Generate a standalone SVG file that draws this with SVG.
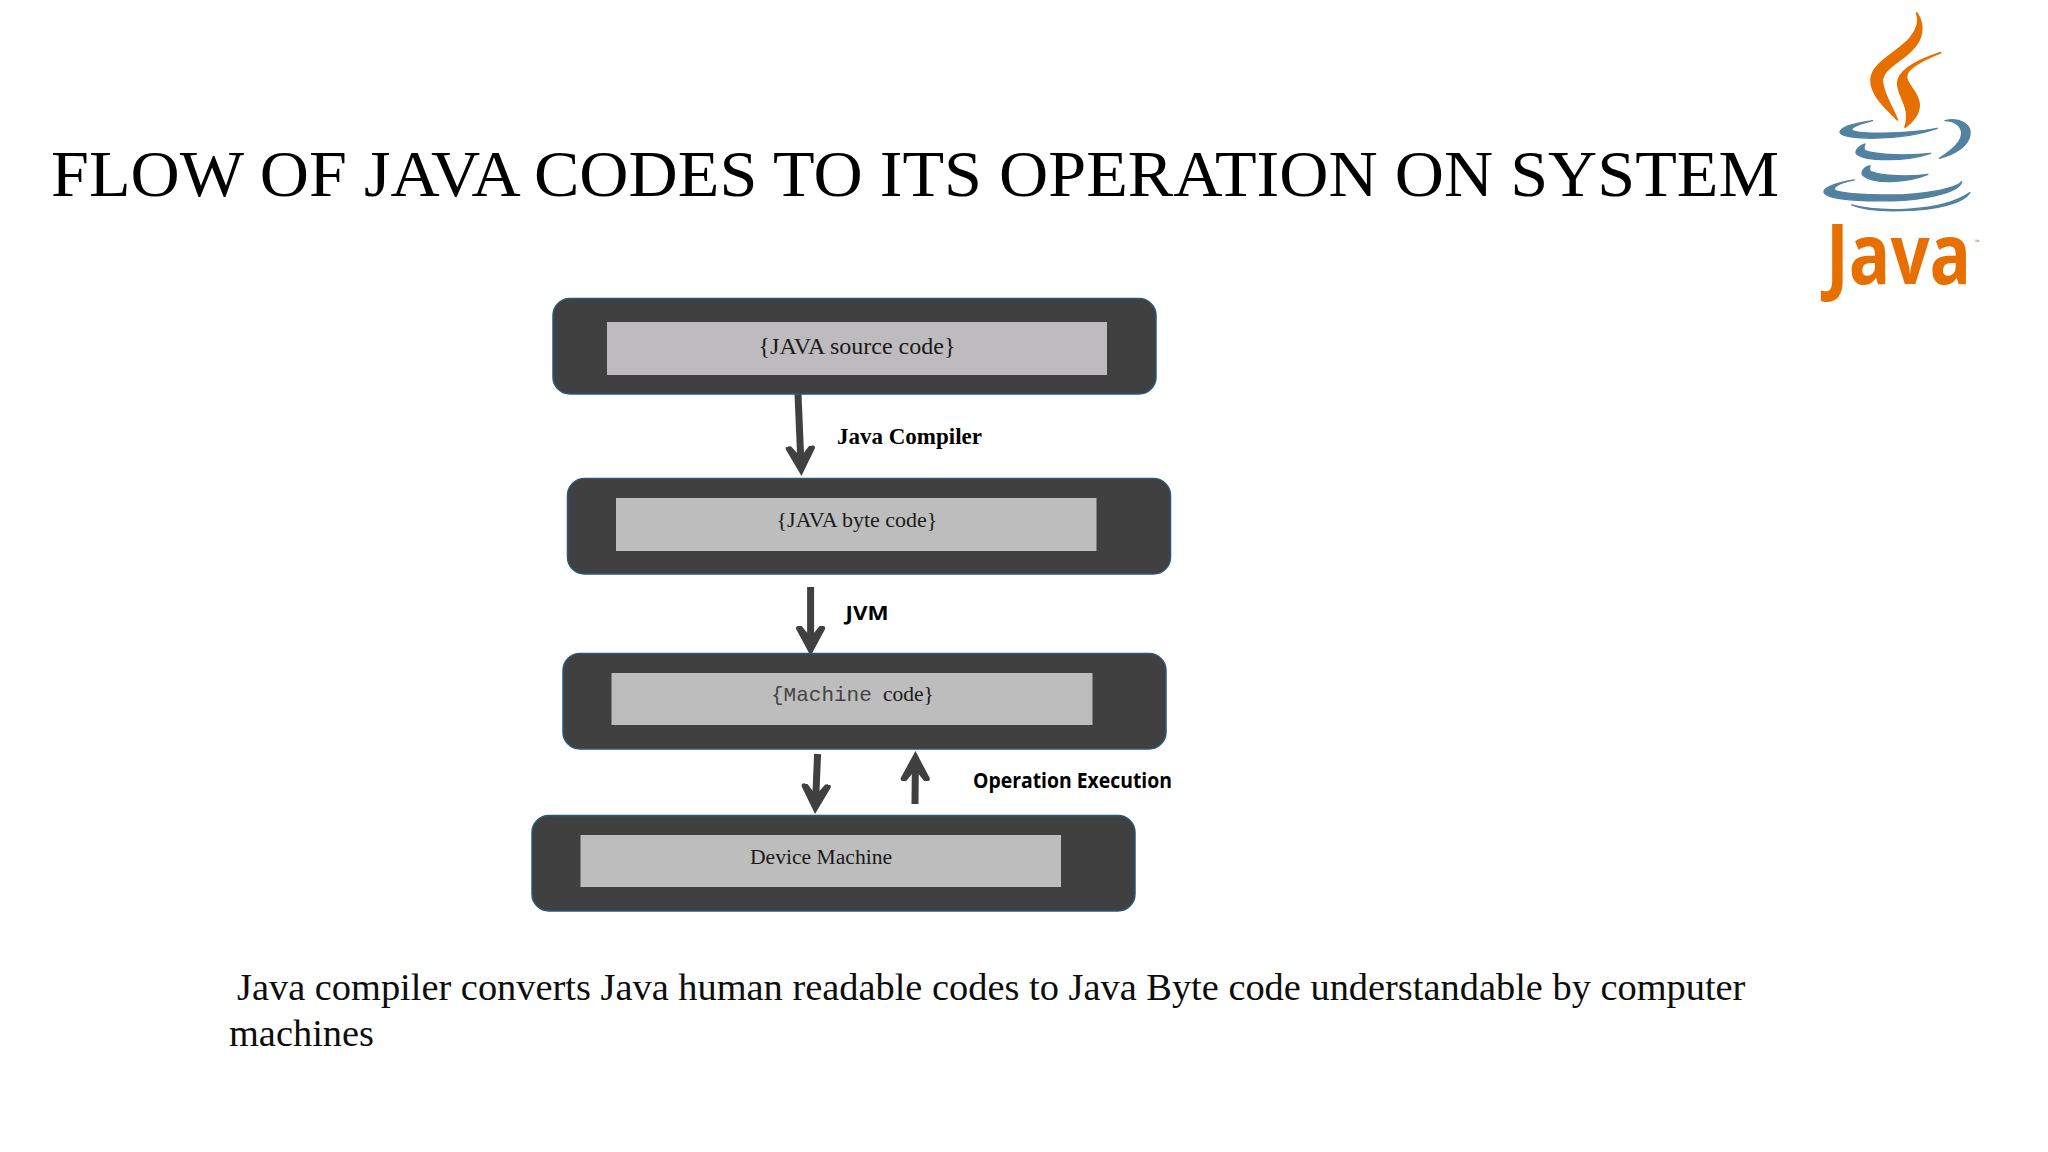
<svg xmlns="http://www.w3.org/2000/svg" width="2048" height="1152" viewBox="0 0 2048 1152">
<style>
.box{fill:#404040;stroke:#2a5878;stroke-width:1.5}
.inner{fill:#bdbdbd}
.lab{font-family:"Liberation Serif",serif;font-size:22px;fill:#1a1a1a}
.conn{stroke:#404040;stroke-width:7;fill:none;marker-end:url(#head)}
.sans{font-family:"Open Sans","Noto Sans",sans-serif;font-weight:700;fill:#000}
.body{font-family:"Liberation Serif",serif;font-size:38.4px;fill:#0d0d0d}
.o{fill:#e76f00;stroke:#e76f00;stroke-width:5;stroke-linejoin:round}
.b{fill:#5382a1;stroke:#5382a1;stroke-width:4;stroke-linejoin:round}
</style>
<defs>
<marker id="head" markerUnits="userSpaceOnUse" markerWidth="34" markerHeight="34" refX="12" refY="16" orient="auto">
<path d="M30,16 L3,1.500 Q-1,0.500 0,7 L11,16 L0,25 Q-1,31.500 3,30.500 Z" fill="#404040"/>
</marker>
</defs>
<rect width="2048" height="1152" fill="#fff"/>
<text x="51" y="195.500" font-family="Liberation Serif, serif" font-size="66" fill="#000" textLength="1728" lengthAdjust="spacingAndGlyphs">FLOW OF JAVA CODES TO ITS OPERATION ON SYSTEM</text>
<g id="java-logo">
<g transform="translate(1790 0) scale(0.3333)">
<path class="o" d="M380,38 C402,70 402,110 370,145 C335,185 275,205 277,245 C280,285 310,325 322,360 C295,330 243,290 243,240 C243,190 320,160 360,115 C385,85 388,60 380,38Z"/>
<path class="o" d="M452,158 C400,175 325,205 323,250 C323,290 365,320 345,382 C375,360 395,330 385,300 C375,265 345,250 350,225 C355,200 410,175 452,158Z"/>
<path class="b" d="M248,362 C190,370 150,382 150,397 C155,420 330,425 442,385 C350,402 200,405 185,390 C185,380 215,370 248,362Z"/>
<path class="b" d="M465,362 C510,350 545,375 540,405 C535,440 490,465 448,475 C480,455 515,430 515,400 C515,375 490,362 465,362Z"/>
<path class="b" d="M225,432 C200,442 195,455 200,462 C225,485 350,485 422,460 C360,468 260,465 225,452 C220,445 222,438 225,432Z"/>
<path class="b" d="M240,497 C215,505 213,520 220,527 C250,552 350,550 414,523 C360,530 280,530 243,515 C235,510 238,503 240,497Z"/>
<path class="b" d="M192,540 C130,550 100,565 102,577 C110,605 280,605 350,600 C420,595 510,575 515,545 C500,565 400,585 300,585 C220,585 135,580 132,567 C135,555 165,545 192,540Z"/>
<path class="b" d="M185,615 C260,635 450,640 540,578 C520,610 440,630 340,632 C270,634 215,628 185,615Z"/>
</g>
<text transform="translate(1826 284) scale(0.82 1)" font-family="Open Sans, sans-serif" font-size="84" font-weight="700" fill="#e76f00">Java</text>
<text x="1975" y="244" font-family="Open Sans, sans-serif" font-size="6" fill="#e76f00">™</text>
</g>
<g id="connectors">
<line class="conn" x1="798" y1="394" x2="800.7" y2="458"/>
<line class="conn" x1="810.6" y1="587" x2="810.6" y2="638"/>
<line class="conn" x1="817.6" y1="754" x2="815.8" y2="796"/>
<line class="conn" x1="915" y1="804" x2="915.3" y2="769"/>
<text x="837" y="444" font-family="Liberation Serif, serif" font-weight="700" font-size="23" fill="#000" textLength="145" lengthAdjust="spacingAndGlyphs">Java Compiler</text>
<text class="sans" x="845.500" y="620" font-size="20" textLength="43" lengthAdjust="spacingAndGlyphs">JVM</text>
<text class="sans" x="973" y="788" font-size="21" textLength="199" lengthAdjust="spacingAndGlyphs">Operation Execution</text>
</g>
<g id="node-source">
<rect class="box" x="553" y="298.500" width="603" height="95.500" rx="17"/>
<rect class="inner" x="607" y="322" width="500" height="53" style="fill:#bdbbbd"/>
<text class="lab" x="857" y="354" text-anchor="middle" style="font-size:24px">{JAVA source code}</text>
</g>
<g id="node-byte">
<rect class="box" x="567.500" y="478.500" width="603" height="95.500" rx="17"/>
<rect class="inner" x="616" y="498" width="480.500" height="53"/>
<text class="lab" x="857" y="527" text-anchor="middle">{JAVA byte code}</text>
</g>
<g id="node-machine">
<rect class="box" x="563" y="653.500" width="603" height="95.500" rx="17"/>
<rect class="inner" x="611.500" y="673" width="481" height="52"/>
<text class="lab" x="771" y="701"><tspan font-family="Liberation Mono, monospace" font-size="21" fill="#444">{Machine</tspan><tspan x="883" style="font-size:21.500px">code}</tspan></text>
</g>
<g id="node-device">
<rect class="box" x="532" y="815.500" width="603" height="95.500" rx="17"/>
<rect class="inner" x="580.500" y="835" width="480.500" height="52"/>
<text class="lab" x="750" y="864" style="font-size:21.600px">Device Machine</text>
</g>
<text class="body" x="237" y="1000">Java compiler converts Java human readable codes to Java Byte code understandable by computer</text>
<text class="body" x="229" y="1046">machines</text>
</svg>
